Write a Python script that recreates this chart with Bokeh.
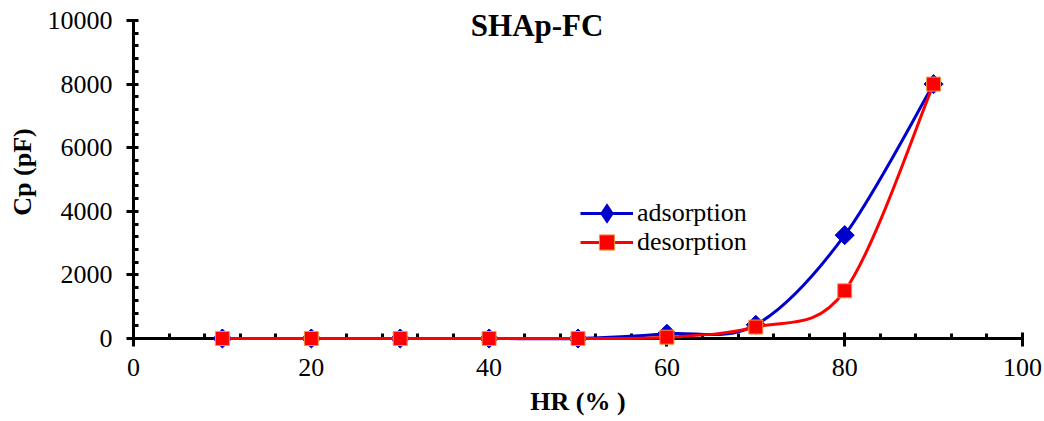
import math
import numpy as np
from bokeh.plotting import figure
from bokeh.models import (SingleIntervalTicker, Range1d, Label, Legend, LegendItem,
                          ColumnDataSource)
from bokeh.embed import file_html
from bokeh.resources import INLINE

# ---- data ----
hr = [10, 20, 30, 40, 50, 60, 70, 80, 90]
adsorption = [0, 0, 0, 0, 0, 150, 430, 3250, 8000]
desorption = [0, 0, 0, 0, 0, 40, 360, 1500, 8000]
title_text = "SHAp-FC"
x_label = "HR (% )"
y_label = "Cp (pF)"
series_names = ["adsorption", "desorption"]

FONT = "'Liberation Serif'"


def bezier_source(xs, ys, t=1.0 / 6.0):
    n = len(xs)
    px = [xs[0]] + list(xs) + [xs[-1]]
    py = [ys[0]] + list(ys) + [ys[-1]]
    d = dict(x0=[], y0=[], x1=[], y1=[], cx0=[], cy0=[], cx1=[], cy1=[])
    for i in range(n - 1):
        a = i + 1
        d["x0"].append(px[a]); d["y0"].append(py[a])
        d["x1"].append(px[a + 1]); d["y1"].append(py[a + 1])
        d["cx0"].append(px[a] + (px[a + 1] - px[a - 1]) * t)
        d["cy0"].append(py[a] + (py[a + 1] - py[a - 1]) * t)
        d["cx1"].append(px[a + 1] - (px[a + 2] - px[a]) * t)
        d["cy1"].append(py[a + 1] - (py[a + 2] - py[a]) * t)
    return ColumnDataSource(d)


Y_TOP = 10000 * 333.0 / 318.0
p = figure(width=1044, height=421, output_backend="svg", toolbar_location=None,
           x_range=Range1d(0, 100), y_range=Range1d(0, Y_TOP),
           min_border_left=133, min_border_right=22, min_border_top=5,
           min_border_bottom=83)
p.outline_line_color = None
p.xgrid.visible = False
p.ygrid.visible = False
p.background_fill_color = "white"
p.border_fill_color = "white"

xa = p.xaxis[0]
ya = p.yaxis[0]
xa.ticker = SingleIntervalTicker(interval=20, num_minor_ticks=5)
ya.ticker = SingleIntervalTicker(interval=2000, num_minor_ticks=5)
ya.bounds = (0, 10000)
for ax in (xa, ya):
    ax.axis_line_width = 3
    ax.axis_line_color = "black"
    ax.major_tick_line_width = 3
    ax.minor_tick_line_width = 3
    ax.major_tick_line_color = "black"
    ax.minor_tick_line_color = "black"
    ax.major_label_text_font = FONT
    ax.major_label_text_font_size = "26px"
    ax.major_label_text_color = "black"
    ax.axis_label_text_font = FONT
    ax.axis_label_text_font_size = "26px"
    ax.axis_label_text_font_style = "bold"
    ax.axis_label_text_color = "black"
xa.major_tick_in = 6
xa.major_tick_out = 8
xa.minor_tick_in = 5
xa.minor_tick_out = 0
xa.major_label_standoff = 12
xa.axis_label = x_label
xa.axis_label_standoff = 8
ya.major_tick_in = 4
ya.major_tick_out = 7
ya.minor_tick_in = 5
ya.minor_tick_out = 0
ya.major_label_standoff = 14
ya.axis_label = y_label
ya.axis_label_standoff = 8

blue = "#0000CC"
red = "#FF0000"

src_a = bezier_source(hr, adsorption)
src_d = bezier_source(hr, desorption)

la = p.bezier(x0="x0", y0="y0", x1="x1", y1="y1", cx0="cx0", cy0="cy0", cx1="cx1",
              cy1="cy1", source=src_a, line_color=blue, line_width=3, level="annotation")
ma = p.scatter(hr, adsorption, marker="square", angle=math.pi / 4, size=13.5,
               fill_color=blue, line_color=blue, line_width=1, level="annotation")
ld = p.bezier(x0="x0", y0="y0", x1="x1", y1="y1", cx0="cx0", cy0="cy0", cx1="cx1",
              cy1="cy1", source=src_d, line_color=red, line_width=3, level="annotation")
md = p.scatter(hr, desorption, marker="square", size=14,
               fill_color=red, line_color="#F79646", line_width=1, level="annotation")
# legend-only diamond swatch (the legend ignores marker angle); it has no drawable point
src_k = ColumnDataSource(dict(x=np.array([np.nan]), y=np.array([np.nan])))
ka = p.scatter(x="x", y="y", source=src_k, marker="diamond", size=18,
               fill_color=blue, line_color=blue, line_width=3, line_join="miter")


def make_legend(item, loc):
    lg = Legend(items=[item], location=loc)
    lg.border_line_color = None
    lg.background_fill_alpha = 0
    lg.padding = 0
    lg.margin = 0
    lg.spacing = 0
    lg.glyph_width = 53
    lg.glyph_height = 38
    lg.label_height = 29
    lg.label_standoff = 4
    lg.label_text_font = FONT
    lg.label_text_font_size = "26px"
    lg.label_text_color = "black"
    return lg


p.add_layout(make_legend(LegendItem(label=series_names[0], renderers=[la, ka]), (447, 106)))
p.add_layout(make_legend(LegendItem(label=series_names[1], renderers=[ld, md]), (447, 77)))

title = Label(x=45.4, y=9840, text=title_text, text_font=FONT, text_font_size="31px",
              text_font_style="bold", text_align="center", text_baseline="middle",
              text_color="black", level="overlay")
p.add_layout(title)

open("out.html", "w").write(file_html(p, INLINE))
